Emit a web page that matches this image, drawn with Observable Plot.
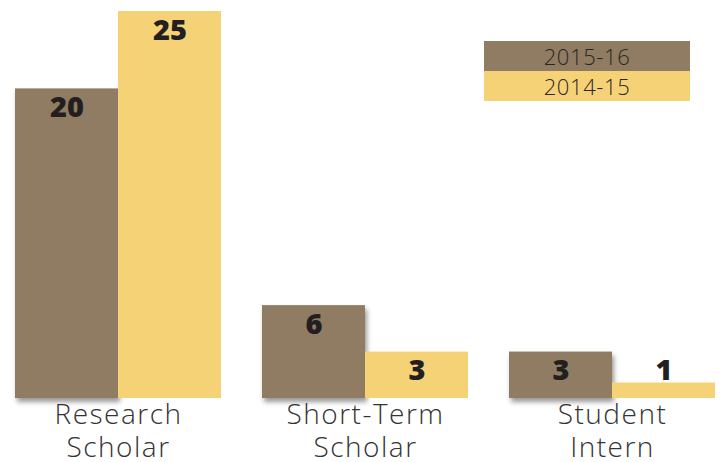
<!DOCTYPE html>
<html>
<head>
<meta charset="utf-8">
<script src="https://cdn.jsdelivr.net/npm/d3@7"></script>
<script src="https://cdn.jsdelivr.net/npm/@observablehq/plot@0.6"></script>
<style>
  html, body { margin: 0; padding: 0; background: #fff; }
  #wrap { position: relative; width: 726px; height: 462px; overflow: hidden; font-family: "Open Sans", sans-serif; }
  .leg { position: absolute; left: 484px; width: 206px; height: 30px; line-height: 30px; text-align: center;
         font-size: 22px; font-weight: 300; color: #2a2624; letter-spacing: 0.6px; }
</style>
</head>
<body>
<div id="wrap"></div>
<script>
const categories = ["Research Scholar", "Short-Term Scholar", "Student Intern"];
const labelLine1 = ["Research", "Short-Term", "Student"];
const labelLine2 = ["Scholar", "Scholar", "Intern"];
const years = ["2015-16", "2014-15"];
const values2015 = [20, 6, 3];
const values2014 = [25, 3, 1];
const colors = ["#8f7c62", "#f5d276"];

const data = categories.flatMap((c, i) => [
  {cat: c, year: years[0], value: values2015[i]},
  {cat: c, year: years[1], value: values2014[i]}
]);
const line1 = new Map(categories.map((c, i) => [c, labelLine1[i]]));
const line2 = new Map(categories.map((c, i) => [c, labelLine2[i]]));

const axisStyle = {anchor: "bottom", tickSize: 0, label: null, fontSize: 28, fontWeight: 300, fill: "#333", lineAnchor: "middle"};

const chart = Plot.plot({
  width: 726,
  height: 462,
  marginTop: 11,
  marginBottom: 64,
  marginLeft: 14,
  marginRight: 11,
  style: {fontFamily: "'Open Sans', sans-serif", background: "transparent"},
  fx: {domain: categories, paddingInner: 0.166, paddingOuter: 0, label: null},
  x: {domain: years, padding: 0, axis: null},
  y: {domain: [0, 25], axis: null},
  color: {domain: years, range: colors},
  marks: [
    Plot.barY(data.filter(d => d.year === years[0]), {fx: "cat", x: "year", y: "value", fill: "year", inset: 0}),
    Plot.barY(data.filter(d => d.year === years[1]), {fx: "cat", x: "year", y: "value", fill: "year", inset: 0}),
    Plot.text(data.filter(d => d.value >= 3), {fx: "cat", x: "year", y: "value", text: d => String(d.value),
      dy: 19, fontSize: 29, fontWeight: 800, fill: "#231f20"}),
    Plot.text(data.filter(d => d.value < 3), {fx: "cat", x: "year", y: "value", text: d => String(d.value),
      dy: -12, fontSize: 29, fontWeight: 800, fill: "#231f20"}),
    Plot.axisFx({...axisStyle, tickPadding: 17, tickFormat: d => line1.get(d)}),
    Plot.axisFx({...axisStyle, tickPadding: 50, tickFormat: d => line2.get(d)})
  ]
});

// drop shadow on the 2015-16 bars
const svg = d3.select(chart);
const defs = svg.insert("defs", ":first-child");
const f = defs.append("filter").attr("id", "shadow").attr("x", "-10%").attr("y", "-10%").attr("width", "130%").attr("height", "130%");
f.append("feDropShadow").attr("dx", 2).attr("dy", 4).attr("stdDeviation", 2.5).attr("flood-color", "#000").attr("flood-opacity", 0.4);
svg.selectAll("rect").filter(function() { return d3.select(this).attr("fill") === colors[0]; }).attr("filter", "url(#shadow)");
svg.selectAll("g[aria-label='fx-axis tick label'] text").style("letter-spacing", "1.5px");

const wrap = document.getElementById("wrap");
wrap.appendChild(chart);
years.forEach((y, i) => {
  const div = document.createElement("div");
  div.className = "leg";
  div.style.top = (41 + i * 30) + "px";
  div.style.background = colors[i];
  div.textContent = y;
  wrap.appendChild(div);
});
</script>
</body>
</html>
